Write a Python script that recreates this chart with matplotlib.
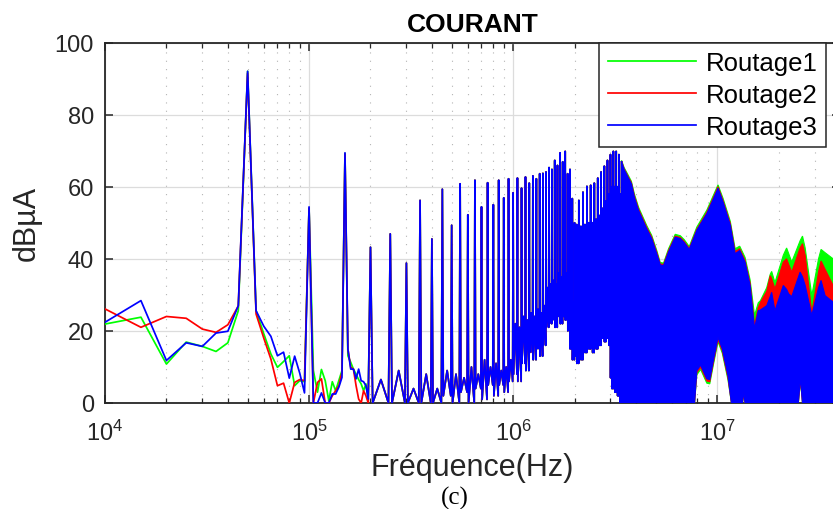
import numpy as np
import matplotlib
matplotlib.use("Agg")
import matplotlib.pyplot as plt
from matplotlib.ticker import LogLocator, NullFormatter

plt.rcParams['font.family'] = ['Liberation Sans', 'DejaVu Sans']
plt.rcParams['mathtext.fontset'] = 'custom'
plt.rcParams['mathtext.rm'] = 'Liberation Sans'
plt.rcParams['mathtext.it'] = 'Liberation Sans:italic'
plt.rcParams['mathtext.bf'] = 'Liberation Sans:bold'

# ---------------- data (dBuA) ----------------
series_names = ["Routage1", "Routage2", "Routage3"]
series_colors = ["#00ff00", "#ff0000", "#0000ff"]

# low-frequency part, 5 kHz resolution, 10 kHz .. 195 kHz
f_low = np.arange(10e3, 200e3, 5e3)
green_low = [21.9, 23.8, 10.8, 16.9, 15.7, 14.3, 16.7, 25.6, 92.0, 25.6,
             19.2, 13.6, 9.9, 11.5, 13.1, 4.8, 6.2, 5.9, 54.0, 9.0,
             3.0, 9.3, 6.2, 0.6, 5.9, 3.4, 6.2, 9.0, 69.2, 13.1,
             11.3, 9.4, 8.0, 6.5, 5.3, 3.4, 5.3, 1.1]
red_low = [26.1, 21.0, 24.0, 23.5, 20.5, 19.6, 21.7, 26.9, 91.5, 24.7,
           18.0, 12.2, 4.8, 5.5, 0.0, 5.7, 6.5, 6.2, 54.0, 0.0,
           5.7, 6.7, 0.0, 0.0, 2.0, 3.4, 4.8, 8.5, 69.0, 15.0,
           9.9, 9.4, 4.8, 1.1, 0.0, 3.4, 2.0, 0.0]
blue_low = [22.4, 28.4, 11.8, 16.7, 15.7, 19.4, 19.9, 27.0, 92.0, 25.6,
            21.3, 18.5, 13.1, 14.1, 6.9, 13.0, 8.3, 2.8, 54.4, 0.0,
            0.0, 2.8, 0.0, 0.0, 2.5, 2.5, 4.4, 7.1, 69.4, 15.0,
            9.4, 9.4, 6.7, 9.4, 6.2, 5.9, 4.8, 1.1]

# harmonic lines, 200 kHz .. 3.4 MHz (50 kHz spacing)
f_harm = np.arange(200e3, 3.4e6 + 1, 50e3)
harm_peaks = [43.2, 46.9, 38.8, 56.2, 45.5, 59.3, 49.3, 60.8, 52.2, 61.8,
              54.4, 61.1, 55.0, 61.8, 56.9, 62.2, 58.3, 62.4, 59.6, 62.7,
              61.0, 63.0, 62.2, 63.6, 63.7, 64.1, 65.3, 64.8, 67.3, 65.9,
              69.4, 66.9, 69.8, 63.6, 64.8, 56.7, 50.0, 49.5, 56.2, 49.0,
              58.5, 49.5, 60.1, 50.0, 60.4, 50.0, 61.0, 51.0, 62.4, 52.0,
              64.1, 54.0, 65.7, 56.0, 67.3, 58.0, 68.9, 60.0, 69.8, 60.0,
              69.8, 60.0, 68.9, 58.0, 66.9]
# floor between consecutive harmonics: lowest level and intermediate level
harm_lows = [0, 0, 0, 0, 0, 2, 0, 3, 0, 4, 1, 5, 2, 5, 3, 6,
             8, 6, 11, 9, 14, 12, 15, 13, 16,
             21, 22, 23, 21, 24, 22, 24, 23, 20,
             15, 12,
             13, 11, 14, 12, 15, 14, 16, 15, 16, 14, 16, 15, 17, 16,
             18, 19, 17, 19, 18, 16,
             7, 4, 8, 3, 6, 2, 5, 0]
harm_mids = [6.5, 9, 4, 8, 4, 9, 8, 7, 10, 8, 12, 10, 11, 9, 10, 12,
             22, 21, 24, 23, 25, 24, 26, 25, 27,
             32, 33, 34, 33, 36, 35, 38, 36, 35,
             30, 28,
             40, 38, 42, 40, 43, 42, 44, 43, 45, 44, 46, 45, 47, 46,
             48, 49, 50, 50, 51, 51,
             50, 49, 50, 48, 49, 47, 48, 46]

# dense part above 3.4 MHz: upper envelope per series (MHz knots)
env_f_mhz = [3.4, 3.5, 3.65, 3.8, 3.93, 4.12, 4.28, 4.52, 4.78, 5.06,
             5.26, 5.46, 5.78, 6.23, 6.6, 6.9, 7.3, 7.95, 8.9, 9.6,
             10.1, 10.7, 11.6, 12.25, 12.9, 13.7, 14.5, 15.25, 15.9, 16.3,
             17.5, 18.2, 18.5, 19.2, 21.1, 21.9, 22.4, 23.2, 25.5, 26.2,
             27.0, 29.1, 31.4, 32.3, 33.8, 37.0, 40.0]
green_up = [67.3, 65.3, 63.4, 61.5, 58.0, 54.3, 52.2, 49.2, 46.5, 42.3,
            39.0, 38.8, 42.8, 46.8, 46.4, 45.3, 43.4, 48.8, 53.5, 57.7,
            60.5, 56.7, 50.4, 42.8, 43.5, 40.4, 34.2, 24.3, 27.8, 28.4,
            32.0, 35.7, 36.5, 33.4, 41.0, 43.0, 41.5, 39.1, 45.0, 46.3,
            43.0, 29.8, 40.0, 42.6, 41.7, 40.0, 39.0]
red_up = [67.1, 65.0, 63.0, 61.1, 57.5, 53.8, 51.7, 48.7, 46.0, 41.8,
          38.6, 38.4, 42.3, 46.3, 45.9, 44.8, 42.9, 48.2, 52.9, 57.1,
          60.0, 56.1, 49.8, 42.0, 42.8, 39.6, 33.3, 21.5, 26.5, 27.9,
          31.0, 35.3, 34.5, 31.7, 39.1, 40.0, 38.5, 36.3, 43.0, 44.2,
          41.0, 25.0, 36.3, 39.4, 37.1, 32.6, 31.0]
blue_up = [66.9, 64.8, 62.7, 60.8, 57.1, 53.4, 51.3, 48.3, 45.6, 41.4,
           38.3, 38.1, 41.9, 46.0, 45.6, 44.5, 42.6, 47.9, 52.5, 56.7,
           59.6, 55.7, 49.3, 41.4, 42.3, 39.1, 32.6, 20.6, 25.6, 25.8,
           27.0, 29.5, 30.7, 25.6, 32.6, 31.5, 30.3, 29.5, 36.3, 35.0,
           32.6, 24.3, 32.0, 34.0, 29.8, 28.0, 27.0]
# lower envelope of the dense part
lo_f_mhz = [3.4, 7.75, 7.95, 8.3, 8.9, 9.2, 9.6, 10.1, 10.6, 11.3,
            11.75, 13.3, 13.5, 13.7, 25.0, 25.6, 26.2, 40.0]
green_lo = [0, 0, 7.8, 9.3, 5.5, 5.3, 10.8, 17.0, 13.8, 6.4, 0, 0, 2.0, 0, 0, 6.0, 0, 0]
red_lo = [0, 0, 8.4, 9.9, 6.1, 5.9, 11.4, 17.6, 14.4, 7.0, 0, 0, 2.5, 0, 0, 6.5, 0, 0]
blue_lo = [0, 0, 9.0, 10.5, 6.7, 6.5, 12.0, 18.2, 15.0, 7.6, 0, 0, 3.0, 0, 0, 7.0, 0, 0]

assert len(green_low) == len(f_low) == len(red_low) == len(blue_low)
assert len(harm_peaks) == len(f_harm)
assert len(harm_lows) == len(harm_mids) == len(f_harm) - 1
assert len(env_f_mhz) == len(green_up) == len(red_up) == len(blue_up)
assert len(lo_f_mhz) == len(green_lo) == len(red_lo) == len(blue_lo)

low_vals = [green_low, red_low, blue_low]
up_vals = [green_up, red_up, blue_up]
lo_vals = [green_lo, red_lo, blue_lo]


def build_line(f_l, v_l):
    xs = list(f_l)
    ys = list(v_l)
    for i, (f, p) in enumerate(zip(f_harm, harm_peaks)):
        xs.append(f)
        ys.append(p)
        if i < len(harm_lows):
            xs += [f + 5e3, f + 25e3, f + 45e3]
            ys += [harm_lows[i], harm_mids[i], harm_lows[i]]
    return np.array(xs), np.array(ys)


# ---------------- figure ----------------
W, H = 833, 510
fig = plt.figure(figsize=(W / 100, H / 100), dpi=100)
ax_left, ax_right, ax_top, ax_bot = 105, 840, 43.5, 404
ax = fig.add_axes([ax_left / W, 1 - ax_bot / H, (ax_right - ax_left) / W, (ax_bot - ax_top) / H])

handles = []
env_f = np.array(env_f_mhz) * 1e6
lo_f = np.array(lo_f_mhz) * 1e6
for k, (name, col) in enumerate(zip(series_names, series_colors)):
    xs, ys = build_line(f_low, low_vals[k])
    ln, = ax.plot(xs, ys, color=col, lw=1.25, zorder=3 + k, label=name)
    handles.append(ln)
    px = np.concatenate([env_f, lo_f[::-1]])
    py = np.concatenate([up_vals[k], lo_vals[k][::-1]])
    ax.fill(px, py, facecolor=col, edgecolor=col, lw=0.8, zorder=3 + k)

ax.set_xscale('log')
ax.set_xlim(1e4, 4e7)
ax.set_ylim(0, 100)
ax.set_yticks([0, 20, 40, 60, 80, 100])
ax.xaxis.set_major_locator(LogLocator(base=10, numticks=10))
ax.xaxis.set_minor_locator(LogLocator(base=10, subs=np.arange(2, 10), numticks=100))
ax.xaxis.set_minor_formatter(NullFormatter())

dark = '#262626'
for s in ax.spines.values():
    s.set_color(dark)
    s.set_linewidth(1.3)
ax.tick_params(which='both', direction='in', top=True, right=True, colors=dark, labelsize=17)
ax.tick_params(axis='x', which='major', length=6, width=1.1, pad=12)
ax.tick_params(axis='x', which='minor', length=3.5, width=0.9)
ax.tick_params(axis='y', which='major', length=6, width=1.1, pad=8)

ax.grid(True, which='major', color='#dcdcdc', lw=0.9, ls='-')
ax.grid(True, which='minor', axis='x', color='#b4b4b4', lw=0.8, ls=(0, (1, 6.5)))
ax.set_axisbelow(True)

ax.set_title('COURANT', fontsize=19, fontweight='bold', pad=8, color='black')

ax.set_xlabel('Fréquence(Hz)', fontsize=22, color=dark)
ax.xaxis.set_label_coords(0.5, (ax_bot - 476) / (ax_bot - ax_top))
ax.xaxis.label.set_va('baseline')
ax.set_ylabel('dBµA', fontsize=22, color=dark)
ax.yaxis.set_label_coords((27 - ax_left) / (ax_right - ax_left), 0.5)
ax.yaxis.label.set_va('center')

fig.text(455 / W, 1 - 498 / H, '(c)', family='Liberation Serif', fontsize=18,
         ha='center', va='center')

leg = ax.legend(handles=handles, loc='upper left',
                bbox_to_anchor=((599 - ax_left) / (ax_right - ax_left), 1.0),
                borderaxespad=0, fontsize=18.5, frameon=True, fancybox=False,
                edgecolor=dark, framealpha=1, borderpad=0.34, handlelength=3.45,
                handletextpad=0.35, labelspacing=0.3)
leg.get_frame().set_linewidth(1.1)
leg.set_zorder(10)

fig.savefig('out.png', dpi=100)
